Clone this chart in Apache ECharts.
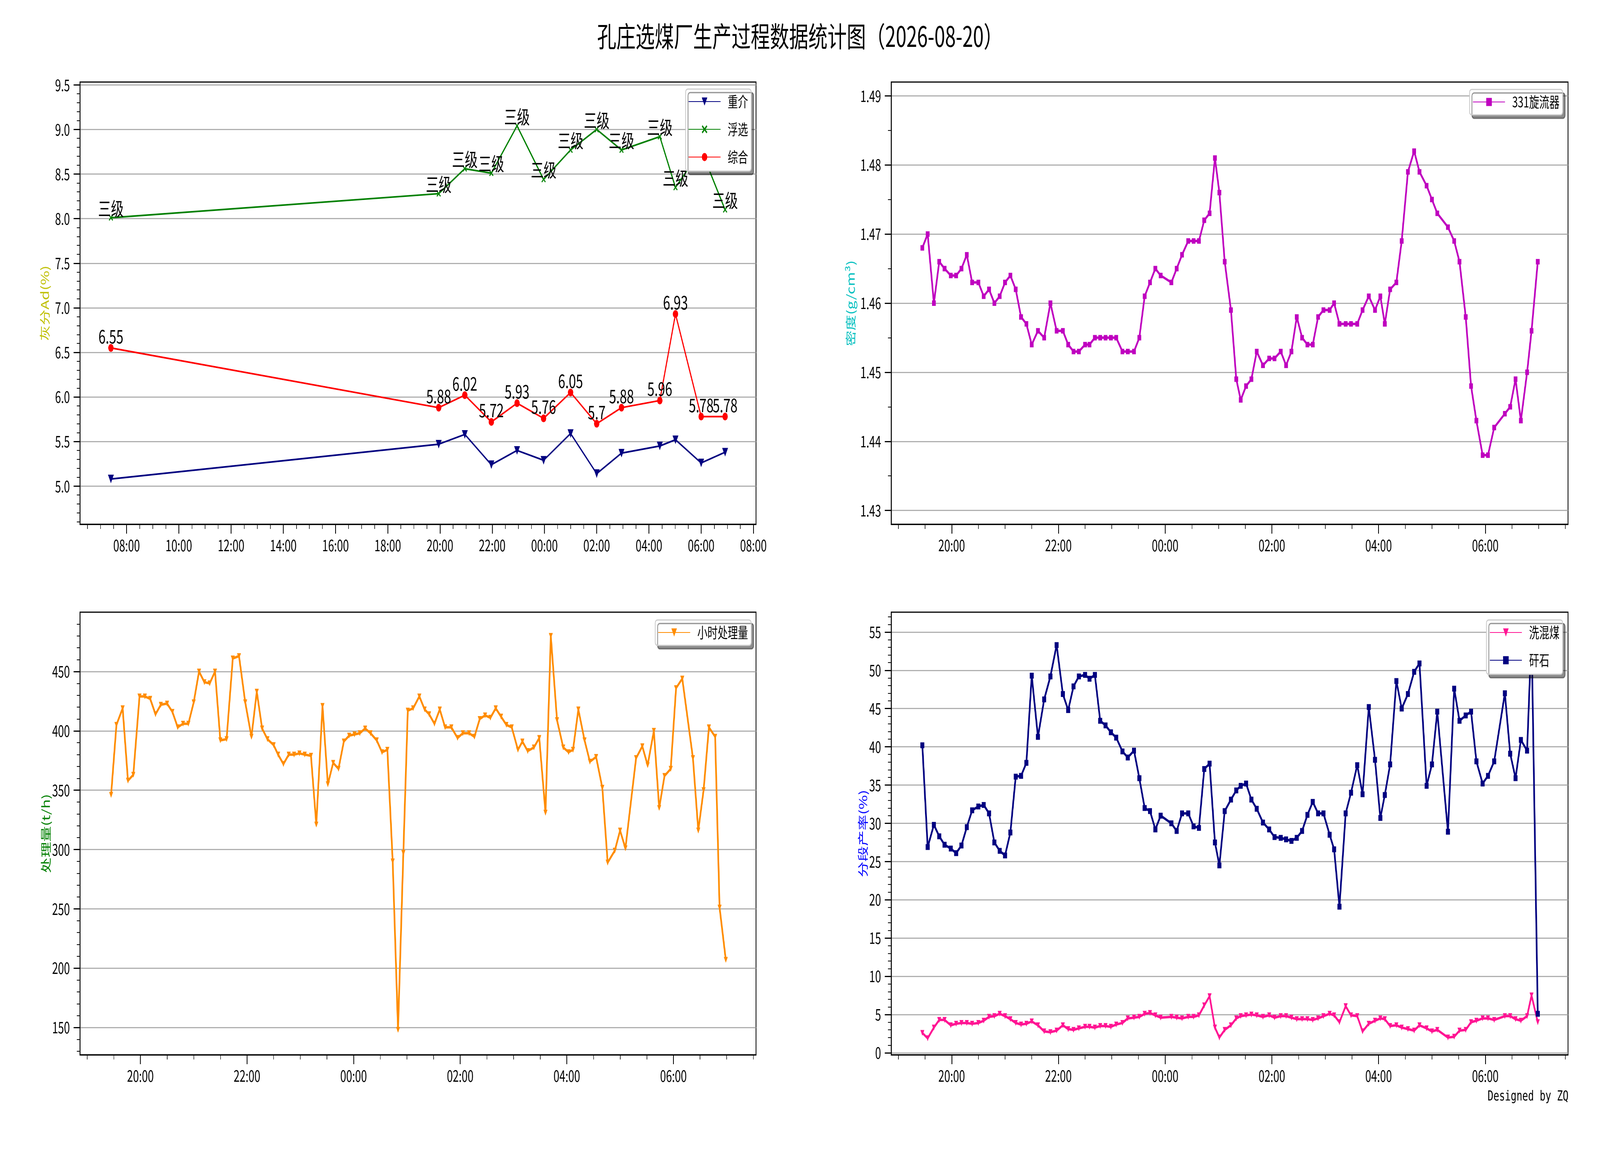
<!DOCTYPE html>
<html>
<head>
<meta charset="utf-8">
<title>孔庄选煤厂生产过程数据统计图</title>
<script src="https://cdn.jsdelivr.net/npm/echarts@6/dist/echarts.min.js"></script>
<style>
html, body { margin: 0; padding: 0; background: #fff; overflow: hidden; }
#main { width: 6000px; height: 3000px; transform-origin: 0 0; }
</style>
</head>
<body>
<div id="main"></div>
<script>
// ---------- 灰分 (化验数据) ----------
var ashTimes = ['2026-08-19 07:24', '2026-08-19 19:57', '2026-08-19 20:57', '2026-08-19 21:58',
	'2026-08-19 22:57', '2026-08-19 23:58', '2026-08-20 01:00', '2026-08-20 02:00',
	'2026-08-20 02:57', '2026-08-20 04:25', '2026-08-20 05:01', '2026-08-20 06:00', '2026-08-20 06:55'];
var ashDense = [5.08, 5.47, 5.58, 5.24, 5.40, 5.29, 5.59, 5.14, 5.37, 5.45, 5.52, 5.26, 5.38];
var ashFloat = [8.01, 8.28, 8.56, 8.51, 9.04, 8.44, 8.77, 9.00, 8.77, 8.92, 8.35, 8.77, 8.10];
var floatGrade = ['三级', '三级', '三级', '三级', '三级', '三级', '三级', '三级', '三级', '三级', '三级', '三级', '三级'];
var ashTotal = [6.55, 5.88, 6.02, 5.72, 5.93, 5.76, 6.05, 5.7, 5.88, 5.96, 6.93, 5.78, 5.78];

// ---------- 在线数据 (19:27 ~ 06:59) ----------
var sampleTimes = ['19:27', '19:33', '19:40', '19:46', '19:52', '19:59', '20:05', '20:11', '20:17', '20:23',
	'20:30', '20:36', '20:42', '20:48', '20:54', '21:00', '21:06', '21:12', '21:18', '21:24',
	'21:30', '21:37', '21:44', '21:51', '21:58', '22:05', '22:11', '22:17', '22:23', '22:30',
	'22:35', '22:41', '22:47', '22:53', '22:59', '23:05', '23:12', '23:18', '23:25', '23:31',
	'23:37', '23:43', '23:49', '23:55', '00:01', '00:07', '00:13', '00:19', '00:26', '00:32',
	'00:38', '00:44', '00:50', '00:56', '01:01', '01:07', '01:14', '01:20', '01:25', '01:31',
	'01:37', '01:43', '01:50', '01:57', '02:03', '02:10', '02:16', '02:22', '02:28', '02:34',
	'02:40', '02:46', '02:52', '02:58', '03:05', '03:10', '03:16', '03:23', '03:29', '03:36',
	'03:42', '03:49', '03:56', '04:02', '04:07', '04:13', '04:20', '04:26', '04:33', '04:40',
	'04:46', '04:54', '05:00', '05:06', '05:18', '05:25', '05:31', '05:38', '05:44', '05:50',
	'05:57', '06:03', '06:10', '06:22', '06:28', '06:34', '06:40', '06:47', '06:52', '06:59'];

var density331 = [1.468, 1.470, 1.460, 1.466, 1.465, 1.464, 1.464, 1.465, 1.467, 1.463,
	1.463, 1.461, 1.462, 1.460, 1.461, 1.463, 1.464, 1.462, 1.458, 1.457,
	1.454, 1.456, 1.455, 1.460, 1.456, 1.456, 1.454, 1.453, 1.453, 1.454,
	1.454, 1.455, 1.455, 1.455, 1.455, 1.455, 1.453, 1.453, 1.453, 1.455,
	1.461, 1.463, 1.465, 1.464, null, 1.463, 1.465, 1.467, 1.469, 1.469,
	1.469, 1.472, 1.473, 1.481, 1.476, 1.466, 1.459, 1.449, 1.446, 1.448,
	1.449, 1.453, 1.451, 1.452, 1.452, 1.453, 1.451, 1.453, 1.458, 1.455,
	1.454, 1.454, 1.458, 1.459, 1.459, 1.460, 1.457, 1.457, 1.457, 1.457,
	1.459, 1.461, 1.459, 1.461, 1.457, 1.462, 1.463, 1.469, 1.479, 1.482,
	1.479, 1.477, 1.475, 1.473, 1.471, 1.469, 1.466, 1.458, 1.448, 1.443,
	1.438, 1.438, 1.442, 1.444, 1.445, 1.449, 1.443, 1.450, 1.456, 1.466];

var hourlyThroughput = [346, 405, 419, 358, 363, 429, 429, 427, 414, 422,
	423, 416, 403, 406, 406, 424, 450, 441, 440, 450,
	392, 393, 461, 463, 424, 395, 433, 402, 393, 388,
	380, 372, 380, 380, 381, 380, 379, 321, 421, 355,
	373, 368, 391, 396, 397, 398, 402, 398, 392, 382,
	384, 290, 148, 297, 417, 419, 429, 418, 414, 406,
	418, 403, 403, 394, 398, 398, 395, 410, 413, 411,
	419, 412, 405, 403, 384, 391, 383, 386, 394, 331,
	480, 409, 386, 382, 384, 418, 392, 374, 378, 352,
	289, 299, 316, 301, 377, 387, 371, 400, 335, 362,
	368, 436, 444, 377, 316, 350, 403, 395, 251, 207];

var yieldMixed = [2.6, 1.9, 3.3, 4.3, 4.3, 3.6, 3.8, 3.9, 3.9, 3.8,
	3.9, 4.2, 4.7, 4.8, 5.1, 4.8, 4.4, 3.9, 3.7, 3.8,
	4.1, 3.6, 2.8, 2.7, 2.9, 3.6, 3.1, 3.0, 3.2, 3.4,
	3.4, 3.3, 3.5, 3.5, 3.4, 3.7, 3.9, 4.5, 4.6, 4.7,
	5.1, 5.2, 4.9, 4.6, null, 4.7, 4.6, 4.5, 4.7, 4.7,
	4.9, 6.2, 7.4, 3.3, 2.0, 3.0, 3.6, 4.5, 4.8, 4.9,
	5.0, 4.9, 4.7, 4.9, 4.6, 4.8, 4.8, 4.6, 4.4, 4.4,
	4.4, 4.3, 4.5, 4.8, 5.1, 4.9, 4.0, 6.1, 4.9, 4.8,
	2.8, 3.8, 4.2, 4.5, 4.4, 3.5, 3.6, 3.3, 3.1, 2.9,
	3.6, 3.2, 2.8, 3.0, 2.0, 2.1, 2.9, 3.0, 4.0, 4.2,
	4.5, 4.5, 4.3, 4.8, 4.8, 4.4, 4.2, 4.8, 7.5, 4.0];

var yieldGangue = [40.2, 26.9, 29.8, 28.3, 27.2, 26.7, 26.1, 27.1, 29.5, 31.7,
	32.2, 32.4, 31.3, 27.5, 26.4, 25.8, 28.8, 36.1, 36.2, 37.9,
	49.3, 41.3, 46.2, 49.2, 53.3, 46.9, 44.8, 47.9, 49.2, 49.4,
	48.9, 49.4, 43.4, 42.8, 41.9, 41.2, 39.4, 38.6, 39.5, 35.9,
	32.0, 31.6, 29.2, 31.0, null, 30.0, 29.0, 31.3, 31.3, 29.6,
	29.4, 37.1, 37.8, 27.5, 24.5, 31.6, 33.1, 34.3, 34.9, 35.2,
	33.1, 31.9, 30.1, 29.2, 28.2, 28.1, 27.9, 27.7, 28.1, 29.0,
	31.1, 32.8, 31.3, 31.3, 28.5, 26.6, 19.1, 31.3, 34.0, 37.6,
	33.8, 45.2, 38.3, 30.7, 33.7, 37.7, 48.6, 45.0, 46.9, 49.8,
	50.9, 34.9, 37.7, 44.6, 28.9, 47.6, 43.4, 44.1, 44.6, 38.1,
	35.2, 36.2, 38.1, 47.0, 39.1, 35.9, 40.9, 39.5, 54.9, 5.1];

// 坐标轴刻度
var ashTicks = ['2026-08-19 08:00', '2026-08-19 10:00', '2026-08-19 12:00', '2026-08-19 14:00',
	'2026-08-19 16:00', '2026-08-19 18:00', '2026-08-19 20:00', '2026-08-19 22:00',
	'2026-08-20 00:00', '2026-08-20 02:00', '2026-08-20 04:00', '2026-08-20 06:00', '2026-08-20 08:00'];
var shiftTicks = ['2026-08-19 20:00', '2026-08-19 22:00', '2026-08-20 00:00',
	'2026-08-20 02:00', '2026-08-20 04:00', '2026-08-20 06:00'];
var ashYTicks = [5.0, 5.5, 6.0, 6.5, 7.0, 7.5, 8.0, 8.5, 9.0, 9.5];
var densityYTicks = [1.43, 1.44, 1.45, 1.46, 1.47, 1.48, 1.49];
var throughputYTicks = [150, 200, 250, 300, 350, 400, 450];
var yieldYTicks = [0, 5, 10, 15, 20, 25, 30, 35, 40, 45, 50, 55];

var FONT = '"Noto Sans CJK SC", "DejaVu Sans", sans-serif';

// 画布按 6000x3000 设计, 窗口较小时整体缩放
(function() {
	var el = document.getElementById('main');
	var sx = window.innerWidth / 6000, sy = window.innerHeight / 3000;
	if (sx < 1 || sy < 1) {
		el.style.transform = 'scale(' + Math.min(sx, 1) + ',' + Math.min(sy, 1) + ')';
	}
})();

// x 轴用 "从 08-19 00:00 起算的小时数"
function hrs(s) {
	var p = s.split(/[- :]/);
	var day = +p[2] - 19;
	return day * 24 + (+p[3]) + (+p[4]) / 60;
}
// 夜班时间: 12点以后算前一天
function shiftHrs(hm) {
	var h = parseInt(hm.split(':')[0], 10);
	return hrs((h >= 12 ? '2026-08-19 ' : '2026-08-20 ') + hm);
}
function pairs(times, values, conv) {
	var out = [];
	for (var i = 0; i < times.length; i++) {
		out.push([conv(times[i]), values[i]]);
	}
	return out;
}
function two(n) { return (n < 10 ? '0' : '') + n; }
function hhmm(v) {
	var m = Math.round(v * 60) % 1440;
	return two(Math.floor(m / 60)) + ':' + two(m % 60);
}

var myChart = echarts.init(document.getElementById('main'));

function makeX(gridIndex, min, max, splitNumber, ticks) {
	var t = ticks.map(hrs);
	return {
		type : 'value',
		gridIndex : gridIndex,
		min : hrs(min),
		max : hrs(max),
		splitNumber : splitNumber,
		axisLine : { show : true, onZero : false, lineStyle : { color : '#000', width : 3 } },
		axisTick : { show : true, length : 24, customValues : t, lineStyle : { color : '#000', width : 3 } },
		minorTick : { show : true, splitNumber : 4, length : 12, lineStyle : { color : '#000', width : 2 } },
		axisLabel : {
			customValues : t,
			formatter : function(v) { return hhmm(v); },
			color : '#000',
			fontSize : 40,
			fontFamily : FONT,
			margin : 34
		},
		splitLine : { show : false },
		minorSplitLine : { show : false }
	};
}

function makeY(gridIndex, min, max, splitNumber, ticks, minorSplit, digits, name, nameColor, nameGap) {
	return {
		type : 'value',
		gridIndex : gridIndex,
		min : min,
		max : max,
		splitNumber : splitNumber,
		name : name,
		nameLocation : 'middle',
		nameRotate : 90,
		nameGap : nameGap,
		nameTextStyle : { color : nameColor, fontSize : 40, fontFamily : FONT },
		axisLine : { show : true, onZero : false, lineStyle : { color : '#000', width : 3 } },
		axisTick : { show : true, length : 24, customValues : ticks, lineStyle : { color : '#000', width : 3 } },
		minorTick : { show : true, splitNumber : minorSplit, length : 12, lineStyle : { color : '#000', width : 2 } },
		axisLabel : {
			customValues : ticks,
			formatter : function(v) { return v.toFixed(digits); },
			color : '#000',
			fontSize : 40,
			fontFamily : FONT,
			margin : 38
		},
		splitLine : { show : true, lineStyle : { color : '#b0b0b0', width : 3 } },
		minorSplitLine : { show : false }
	};
}

function makeLegend(names, right, top, padding) {
	return {
		data : names,
		orient : 'vertical',
		right : right,
		top : top,
		selectedMode : false,
		itemWidth : 120,
		itemHeight : 26,
		itemGap : 31,
		padding : padding,
		backgroundColor : '#fff',
		borderColor : '#cccccc',
		borderWidth : 3,
		borderRadius : 8,
		shadowColor : 'rgba(0,0,0,0.45)',
		shadowBlur : 1,
		shadowOffsetX : 9,
		shadowOffsetY : 9,
		textStyle : { fontSize : 38, color : '#000', fontFamily : FONT, lineHeight : 40, padding : [0, 0, 0, 22] }
	};
}

var gridStyle = { show : true, borderColor : '#000', borderWidth : 3, backgroundColor : '#fff' };

var xMark = 'path://M0,1.5 L1.5,0 L5,3.5 L8.5,0 L10,1.5 L6.5,5 L10,8.5 L8.5,10 L5,6.5 L1.5,10 L0,8.5 L3.5,5 Z';

var option = {
	animation : false,
	backgroundColor : '#fff',
	title : {
		text : '孔庄选煤厂生产过程数据统计图（2026-08-20）',
		left : 'center',
		top : 52,
		textStyle : { fontSize : 72, fontWeight : 'normal', color : '#000', fontFamily : FONT }
	},
	grid : [
		Object.assign({ left : 300, top : 210, width : 2535, height : 1132 }, gridStyle),
		Object.assign({ left : 3342, top : 210, width : 2538, height : 1132 }, gridStyle),
		Object.assign({ left : 300, top : 1567, width : 2535, height : 1133 }, gridStyle),
		Object.assign({ left : 3342, top : 1567, width : 2538, height : 1133 }, gridStyle)
	],
	xAxis : [
		makeX(0, '2026-08-19 06:13', '2026-08-20 08:06', 13, ashTicks),
		makeX(1, '2026-08-19 18:52', '2026-08-20 07:33', 6, shiftTicks),
		makeX(2, '2026-08-19 18:52', '2026-08-20 07:33', 6, shiftTicks),
		makeX(3, '2026-08-19 18:52', '2026-08-20 07:33', 6, shiftTicks)
	],
	yAxis : [
		makeY(0, 4.572, 9.532, 10, ashYTicks, 5, 1, '灰分Ad(%)', '#bfbf00', 112),
		makeY(1, 1.428, 1.492, 6, densityYTicks, 2, 2, '密度(g/cm³)', '#00bfbf', 132),
		makeY(2, 127, 500, 7, throughputYTicks, 5, 0, '处理量(t/h)', '#008000', 108),
		makeY(3, -0.26, 57.6, 11, yieldYTicks, 5, 0, '分段产率(%)', '#0000ff', 86)
	],
	legend : [
		makeLegend([ '重介', '浮选', '综合' ], 3183, 228, [ 12, 12, 16, 10 ]),
		makeLegend([ '331旋流器' ], 140, 229, [ 12, 12, 13, 12 ]),
		makeLegend([ '小时处理量' ], 3183, 1587, [ 12, 12, 13, 10 ]),
		makeLegend([ '洗混煤', '矸石' ], 140, 1587, [ 12, 12, 16, 12 ])
	],
	graphic : [ {
		type : 'text',
		right : 118,
		top : 2790,
		style : { text : 'Designed by ZQ', font : '36px "DejaVu Sans Mono"', fill : '#000' }
	} ],
	series : [ {
		name : '重介', type : 'line', xAxisIndex : 0, yAxisIndex : 0,
		data : pairs(ashTimes, ashDense, hrs),
		symbol : 'triangle', symbolRotate : 180, symbolSize : 22,
		lineStyle : { color : '#000080', width : 4.2 }, itemStyle : { color : '#000080' }
	}, {
		name : '浮选', type : 'line', xAxisIndex : 0, yAxisIndex : 0,
		data : pairs(ashTimes, ashFloat, hrs),
		symbol : xMark, symbolSize : 16,
		lineStyle : { color : '#008000', width : 4.2 }, itemStyle : { color : '#008000' },
		label : {
			show : true, position : 'top', distance : -8,
			formatter : function(p) { return floatGrade[p.dataIndex]; },
			color : '#000', fontSize : 48, fontFamily : FONT
		}
	}, {
		name : '综合', type : 'line', xAxisIndex : 0, yAxisIndex : 0,
		data : pairs(ashTimes, ashTotal, hrs),
		symbol : 'circle', symbolSize : 20,
		lineStyle : { color : '#ff0000', width : 4.2 }, itemStyle : { color : '#ff0000' },
		label : {
			show : true, position : 'top', distance : -4,
			formatter : function(p) { return String(p.value[1]); },
			color : '#000', fontSize : 48, fontFamily : FONT
		}
	}, {
		name : '331旋流器', type : 'line', xAxisIndex : 1, yAxisIndex : 1,
		data : pairs(sampleTimes, density331, shiftHrs), connectNulls : true,
		symbol : 'rect', symbolSize : 14,
		lineStyle : { color : '#bf00bf', width : 6.25 }, itemStyle : { color : '#bf00bf' }
	}, {
		name : '小时处理量', type : 'line', xAxisIndex : 2, yAxisIndex : 2,
		data : pairs(sampleTimes, hourlyThroughput, shiftHrs),
		symbol : 'triangle', symbolRotate : 180, symbolSize : 15,
		lineStyle : { color : '#ff8c00', width : 6.25 }, itemStyle : { color : '#ff8c00' }
	}, {
		name : '洗混煤', type : 'line', xAxisIndex : 3, yAxisIndex : 3,
		data : pairs(sampleTimes, yieldMixed, shiftHrs), connectNulls : true,
		symbol : 'triangle', symbolRotate : 180, symbolSize : 15,
		lineStyle : { color : '#ff1493', width : 6.25 }, itemStyle : { color : '#ff1493' }
	}, {
		name : '矸石', type : 'line', xAxisIndex : 3, yAxisIndex : 3,
		data : pairs(sampleTimes, yieldGangue, shiftHrs), connectNulls : true,
		symbol : 'rect', symbolSize : 15,
		lineStyle : { color : '#000080', width : 6.25 }, itemStyle : { color : '#000080' }
	} ]
};

myChart.setOption(option);
</script>
</body>
</html>
